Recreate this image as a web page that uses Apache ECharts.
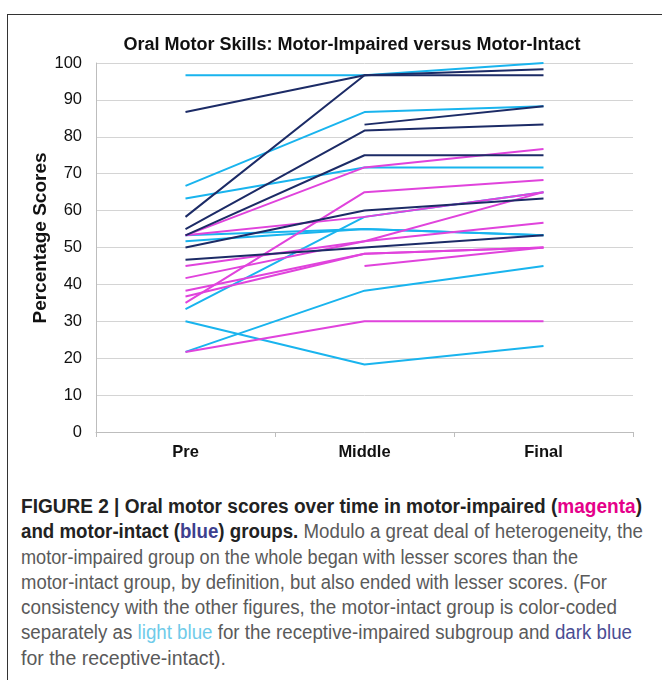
<!DOCTYPE html>
<html>
<head>
<meta charset="utf-8">
<script src="https://cdn.jsdelivr.net/npm/echarts@6/dist/echarts.min.js"></script>
<style>
  html, body { margin: 0; padding: 0; background: #fff; }
  #wrap { position: relative; width: 662px; height: 680px; overflow: hidden; }
  #frame { position: absolute; left: 7px; top: 14px; width: 700px; height: 700px;
           border-left: 1px solid #333; border-top: 1px solid #333; }
  #chart { position: absolute; left: 0; top: 0; width: 662px; height: 470px; }
  #caption { position: absolute; left: 21px; top: 494px; width: 640px;
             font-family: "Liberation Sans Narrow", "Liberation Sans", Arial, sans-serif;
             font-size: 19.5px; line-height: 25.3px; color: #5a5a5a; white-space: nowrap; }
  #caption .ln { display: block; width: max-content; transform-origin: 0 50%; }
  #caption b { color: #222; }
  .mag { color: #e5008a; }
  .blu { color: #3d3f8e; }
  .lb { color: #6fcbe9; }
  .db { color: #4a4d93; }
</style>
</head>
<body>
<div id="wrap">
  <div id="frame"></div>
  <div id="chart"></div>
  <div id="caption">
    <span class="ln" data-w="621"><b>FIGURE 2 | Oral motor scores over time in motor-impaired (<span class="mag">magenta</span>)</b></span>
    <span class="ln" data-w="622"><b>and motor-intact (<span class="blu">blue</span>) groups.</b> Modulo a great deal of heterogeneity, the</span>
    <span class="ln" data-w="557">motor-impaired group on the whole began with lesser scores than the</span>
    <span class="ln" data-w="586">motor-intact group, by definition, but also ended with lesser scores. (For</span>
    <span class="ln" data-w="596">consistency with the other figures, the motor-intact group is color-coded</span>
    <span class="ln" data-w="611">separately as <span class="lb">light blue</span> for the receptive-impaired subgroup and <span class="db">dark blue</span></span>
    <span class="ln">for the receptive-intact).</span>
  </div>
</div>
<script>
// Categories and tick values
const categories = ['Pre', 'Middle', 'Final'];
const yTicks = { min: 0, max: 100, interval: 10 };

// Motor-intact, receptive-impaired (light blue)
const lightBlue = [
  [96.7, 96.7, 100],
  [66.7, 86.7, 88.3],
  [63.3, 71.7, 71.7],
  [53.3, 55, 53.3],
  [51.7, 55, 53.3],
  [33.3, 58.3, 65],
  [30, 18.3, 23.3],
  [21.7, 38.3, 45]
];

// Motor-impaired (magenta)
const magenta = [
  [53.3, 71.7, 76.7],
  [53.3, 58.3, 65],
  [35, 65, 68.3],
  [45, 51.7, 65],
  [41.7, 51.7, 56.7],
  [38.3, 48.3, 50],
  [36.7, 48.3, 50],
  [21.7, 30, 30],
  [null, 45, 50]
];

// Motor-intact, receptive-intact (dark blue)
const darkBlue = [
  [86.7, 96.7, 96.7],
  [58.3, 96.7, 98.3],
  [55, 81.7, 83.3],
  [53.3, 75, 75],
  [null, 83.3, 88.3],
  [50, 60, 63.3],
  [46.7, 50, 53.3]
];

const COLORS = { lightBlue: '#19b4ee', magenta: '#e043dc', darkBlue: '#1c2b66' };

function mk(arr, color, name) {
  return arr.map((d, i) => ({
    name: name + ' ' + (i + 1),
    type: 'line',
    data: d,
    showSymbol: false,
    connectNulls: false,
    silent: true,
    lineStyle: { color: color, width: 2 },
    itemStyle: { color: color },
    z: 2
  }));
}

const series = [].concat(
  mk(lightBlue, COLORS.lightBlue, 'Light blue'),
  mk(magenta, COLORS.magenta, 'Magenta'),
  mk(darkBlue, COLORS.darkBlue, 'Dark blue')
);

const FONT = 'Liberation Sans, Arial, sans-serif';
const chart = echarts.init(document.getElementById('chart'), null, { renderer: 'canvas' });
chart.setOption({
  animation: false,
  backgroundColor: 'transparent',
  title: {
    text: 'Oral Motor Skills: Motor-Impaired versus Motor-Intact',
    left: 347, top: 31, textAlign: 'center',
    textStyle: { fontFamily: FONT, fontWeight: 'bold', fontSize: 18, color: '#111' }
  },
  graphic: [{
    type: 'text',
    x: 41, y: 238,
    rotation: Math.PI / 2,
    style: {
      text: 'Percentage Scores',
      fontFamily: FONT, fontWeight: 'bold', fontSize: 19, fill: '#111',
      align: 'center', verticalAlign: 'middle'
    }
  }],
  grid: { left: 96, right: 29, top: 63, bottom: 38, containLabel: false },
  xAxis: {
    type: 'category',
    data: categories,
    boundaryGap: true,
    axisLine: { lineStyle: { color: '#bdbdbd', width: 1 } },
    axisTick: { show: true, length: 5, lineStyle: { color: '#bdbdbd' } },
    axisLabel: { margin: 12, fontFamily: FONT, fontWeight: 'bold', fontSize: 16.5, color: '#111' }
  },
  yAxis: {
    type: 'value',
    min: yTicks.min, max: yTicks.max, interval: yTicks.interval,
    axisLine: { show: true, lineStyle: { color: '#bdbdbd', width: 1 } },
    axisTick: { show: false },
    splitLine: { lineStyle: { color: '#d4d4d4', width: 1 } },
    axisLabel: { margin: 14, fontFamily: FONT, fontSize: 16.5, color: '#111' }
  },
  series: series
});

// Fit each caption line to the width it has in the reference
document.querySelectorAll('#caption .ln[data-w]').forEach(el => {
  const w = el.getBoundingClientRect().width;
  const target = parseFloat(el.dataset.w);
  if (w > 0) el.style.transform = 'scaleX(' + (target / w).toFixed(4) + ')';
});
</script>
</body>
</html>
